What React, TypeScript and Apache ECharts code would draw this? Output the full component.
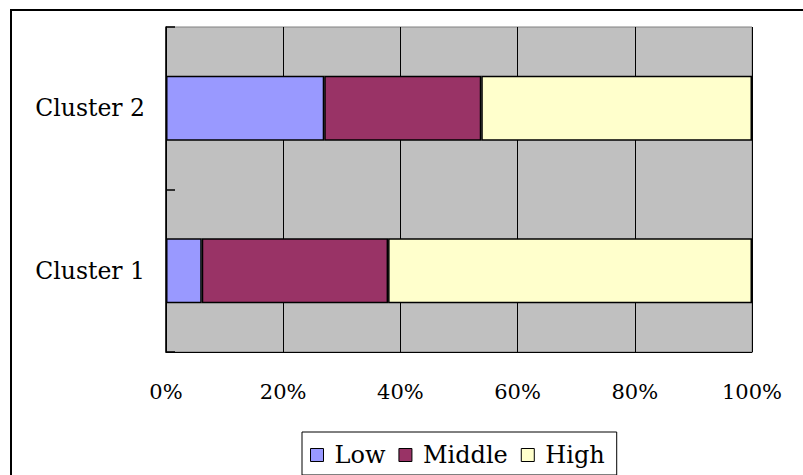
import React, { useEffect, useRef } from "react";
import * as echarts from "echarts";

const categories = ["Cluster 1", "Cluster 2"];
const lowValues = [6.1, 27.0];
const middleValues = [31.8, 26.8];
const highValues = [62.1, 46.2];
const seriesNames = ["Low", "Middle", "High"];
const seriesColors = ["#9999FF", "#993366", "#FFFFCC"];
const xTicks = [0, 20, 40, 60, 80, 100];

const FONT = "DejaVu Serif";

export default function App() {
  const ref = useRef<HTMLDivElement>(null);
  useEffect(() => {
    if (!ref.current) return;
    const chart = echarts.init(ref.current, null, { renderer: "svg" });
    const values = [lowValues, middleValues, highValues];
    chart.setOption({
      animation: false,
      backgroundColor: "#ffffff",
      textStyle: { fontFamily: FONT, color: "#000" },
      graphic: [
        {
          type: "rect",
          shape: { x: 11, y: 10, width: 900, height: 600 },
          style: { fill: "none", stroke: "#000", lineWidth: 2 },
          silent: true,
          z: 100,
        },
      ],
      legend: {
        left: 302,
        top: 432,
        orient: "horizontal",
        padding: [11, 12, 8, 8],
        borderColor: "#000",
        borderWidth: 1,
        itemWidth: 13,
        itemHeight: 13,
        itemGap: 13,
        icon: "rect",
        itemStyle: { borderColor: "#000", borderWidth: 1 },
        textStyle: {
          fontFamily: FONT,
          fontSize: 24,
          color: "#000",
          padding: [0, 0, 0, 6],
        },
        data: seriesNames,
      },
      grid: {
        left: 166,
        right: 51,
        top: 27,
        bottom: 123,
        show: true,
        backgroundColor: "#C0C0C0",
        borderColor: "#808080",
        borderWidth: 1,
      },
      xAxis: {
        type: "value",
        min: 0,
        max: 100,
        interval: 20,
        axisLine: { show: true, lineStyle: { color: "#000", width: 1 } },
        axisTick: { show: false },
        splitLine: { show: true, lineStyle: { color: "#000", width: 1 } },
        axisLabel: {
          fontFamily: FONT,
          fontSize: 21,
          color: "#000",
          margin: 29,
          formatter: (v: number) => (xTicks.includes(v) ? `${v}%` : ""),
        },
      },
      yAxis: {
        type: "category",
        data: categories,
        axisLine: { show: true, lineStyle: { color: "#000", width: 1.5 } },
        axisTick: {
          show: true,
          inside: true,
          length: 9,
          lineStyle: { color: "#000", width: 1.5 },
        },
        axisLabel: {
          fontFamily: FONT,
          fontSize: 23.5,
          color: "#000",
          margin: 21,
          padding: [5, 0, 0, 0],
        },
        splitLine: { show: false },
      },
      series: seriesNames.map((name, i) => ({
        name,
        type: "bar",
        stack: "total",
        barWidth: "40%",
        data: values[i],
        itemStyle: {
          color: seriesColors[i],
          borderColor: "#000",
          borderWidth: 1.5,
        },
      })),
    });
    return () => chart.dispose();
  }, []);
  return (
    <div
      ref={ref}
      style={{ position: "fixed", left: 0, top: 0, width: 803, height: 475 }}
    />
  );
}
